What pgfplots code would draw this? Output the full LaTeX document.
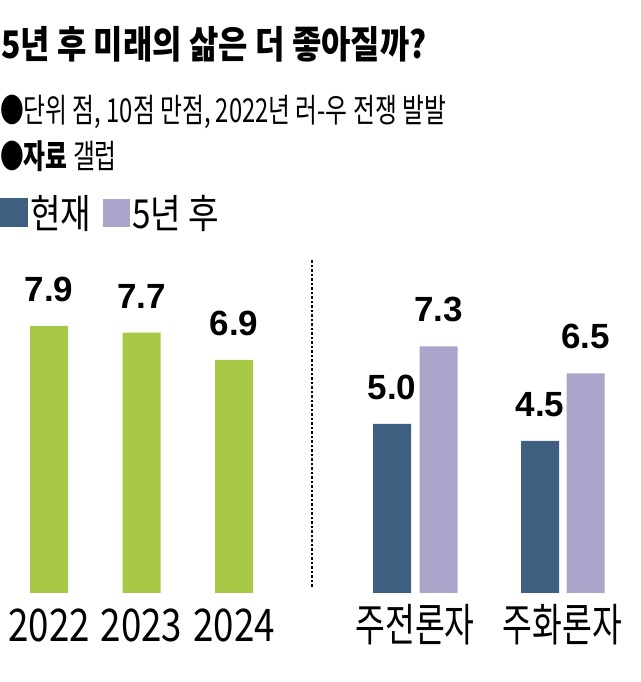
\documentclass[border=0pt]{standalone}
\usepackage{pgfplots}
\pgfplotsset{compat=1.18}
\usepackage{pgfplotstable}
\usepackage{fontspec}
\setmainfont{Noto Sans CJK KR}
\newfontfamily\krTitle[FakeStretch=0.84]{Noto Sans CJK KR}
\newfontfamily\krSub[FakeStretch=0.72]{Noto Sans CJK KR}
\newfontfamily\krLeg[FakeStretch=0.83]{Noto Sans CJK KR}
\newfontfamily\krTick[FakeStretch=0.72]{Noto Sans CJK KR}
\newfontfamily\krNum[FakeStretch=0.815]{Noto Sans CJK KR}
\newfontfamily\valfont{Liberation Sans}
\definecolor{barGreen}{HTML}{A8C846}
\definecolor{nowBlue}{HTML}{3F5F80}
\definecolor{futLav}{HTML}{A9A5CB}

\pgfplotstableread{
x y
49 7.9
141.5 7.7
234 6.9
}\yeartable
\pgfplotstableread{
x y
392 5.0
540 4.5
}\nowtable
\pgfplotstableread{
x y
438.5 7.3
585.5 6.5
}\futtable

\begin{document}
\begin{tikzpicture}
\path[use as bounding box] (0pt,0pt) rectangle (640pt,682pt);
\node[anchor=base west, inner sep=0pt] at (1pt,623pt)
  {\krTitle\bfseries\fontsize{38}{44}\selectfont 5년 후 미래의 삶은 더 좋아질까?};
\node[anchor=base west, inner sep=0pt] at (0pt,559pt)
  {\krSub\fontsize{33}{38}\selectfont ●단위 점, 10점 만점, 2022년 러-우 전쟁 발발};
\node[anchor=base west, inner sep=0pt] at (0pt,513pt)
  {\krSub\fontsize{33}{38}\selectfont ●\textbf{자료} 갤럽};
\begin{axis}[
  at={(0pt,89pt)}, anchor=south west,
  x=1pt, y=33.8pt,
  xmin=0, xmax=640, ymin=0, ymax=10,
  axis line style={draw=none},
  tick style={draw=none},
  ytick=\empty,
  xtick={49,141.5,234,415,562.5},
  xticklabels={{\krNum 2022},{\krNum 2023},{\krNum 2024},주전론자,주화론자},
  xticklabel style={font=\krTick\fontsize{45}{50}\selectfont, anchor=base, inner sep=0pt, yshift=-44pt},
  clip=false,
  ybar, bar width=38,
  nodes near coords,
  every node near coord/.append style={font=\valfont\bfseries\fontsize{35}{40}\selectfont, inner sep=0pt, yshift=24pt},
  /pgf/number format/.cd, fixed, fixed zerofill, precision=1, assume math mode=true,
  /pgfplots/.cd,
  legend columns=-1,
  legend style={at={(0,1.183)}, anchor=north west, draw=none, fill=none, inner sep=0pt,
    font=\krLeg\fontsize{40}{44}\selectfont,
    nodes={inner sep=2pt},
    /tikz/every even column/.append style={column sep=10pt}},
]
\addplot[bar shift=0pt, fill=barGreen, draw=none, forget plot] table[x=x,y=y] {\yeartable};
\addplot[bar shift=0pt, fill=nowBlue, draw=none,
  legend image code/.code={\fill[fill=nowBlue] (0pt,-14.5pt) rectangle (28pt,14.5pt);}] table[x=x,y=y] {\nowtable};
\addplot[bar shift=0pt, fill=futLav, draw=none,
  legend image code/.code={\fill[fill=futLav] (0pt,-14pt) rectangle (27pt,14pt);}] table[x=x,y=y] {\futtable};
\addplot[ybar=0pt, sharp plot, draw=black, line width=1.2pt, dash pattern=on 2.5pt off 2pt, nodes near coords=\empty, forget plot]
  coordinates {(312,0.18) (312,9.85)};
\legend{현재,5년 후}
\end{axis}
\end{tikzpicture}
\end{document}
